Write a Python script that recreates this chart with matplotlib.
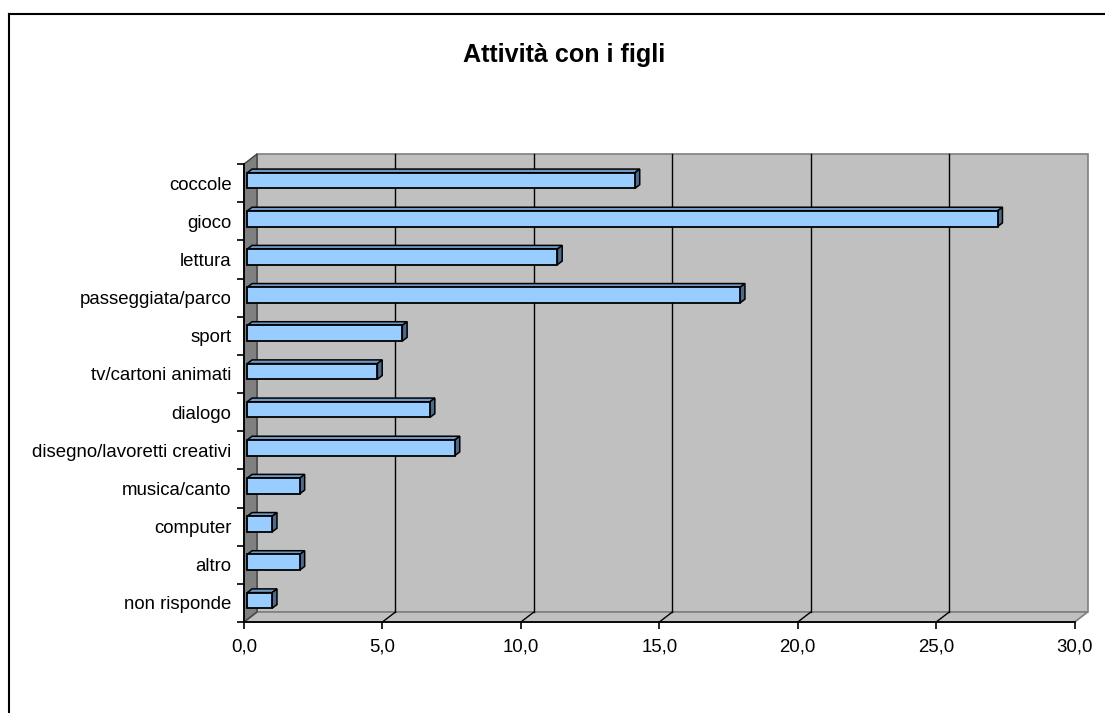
import matplotlib
matplotlib.use("Agg")
import matplotlib.pyplot as plt
import numpy as np
from matplotlib.patches import Polygon
from matplotlib.lines import Line2D

plt.rcParams['font.family'] = ['Liberation Sans', 'DejaVu Sans']

categories = ["coccole", "gioco", "lettura", "passeggiata/parco", "sport",
              "tv/cartoni animati", "dialogo", "disegno/lavoretti creativi",
              "musica/canto", "computer", "altro", "non risponde"]
values = [14.0, 27.1, 11.2, 17.8, 5.6, 4.7, 6.6, 7.5, 1.9, 0.9, 1.9, 0.9]
xticks = [0, 5, 10, 15, 20, 25, 30]
title = "Attività con i figli"

W, H = 1105, 713
fig = plt.figure(figsize=(W / 100, H / 100), dpi=100)

# front plane of the 3d box, in pixels
px_l, px_r, px_t, px_b = 244, 1074.7, 164, 622
ax = fig.add_axes([px_l / W, 1 - px_b / H, (px_r - px_l) / W, (px_b - px_t) / H])
ax.set_xlim(0, 30)
ax.set_ylim(len(categories) - 0.5, -0.5)
ax.set_facecolor('none')

# depth of the box in data units (13 px right, 10 px up)
DX = 13 / ((px_r - px_l) / 30)
DY = 10 / ((px_b - px_t) / len(categories))
y0, y1 = -0.5, len(categories) - 0.5

def poly(pts, **kw):
    p = Polygon(pts, closed=True, clip_on=False, **kw)
    ax.add_patch(p)
    return p

# walls and floor
poly([(DX, y1 - DY), (30 + DX, y1 - DY), (30 + DX, y0 - DY), (DX, y0 - DY)],
     facecolor='#c0c0c0', edgecolor='#808080', lw=1.2, zorder=0)
poly([(0, y1), (30, y1), (30 + DX, y1 - DY), (DX, y1 - DY)],
     facecolor='#c0c0c0', edgecolor='#808080', lw=1.2, zorder=0.5)
poly([(0, y0), (0, y1), (DX, y1 - DY), (DX, y0 - DY)],
     facecolor='#808080', edgecolor='#404040', lw=1.0, zorder=0.6)

# gridlines on back wall and floor
for v in xticks[1:-1]:
    ax.plot([v + DX, v + DX], [y1 - DY, y0 - DY], color='black', lw=1.0,
            clip_on=False, zorder=1)
    ax.plot([v, v + DX], [y1, y1 - DY], color='black', lw=1.0,
            clip_on=False, zorder=1)

# 3d bars: front face with barh, then top and side faces
d0, d1 = 0.25, 0.62
bh = 0.41
ys = np.arange(len(categories))
ax.barh(ys - d0 * DY, values, height=bh, left=d0 * DX, color='#99ccff',
        edgecolor='black', lw=1.3, zorder=3)
dd = d1 - d0
for y, v in zip(ys, values):
    top = y - bh / 2 - d0 * DY
    bot = y + bh / 2 - d0 * DY
    x0 = d0 * DX
    x1 = x0 + v
    poly([(x0, top), (x1, top), (x1 + dd * DX, top - dd * DY), (x0 + dd * DX, top - dd * DY)],
         facecolor='#7099c6', edgecolor='black', lw=1.1, zorder=2.9)
    poly([(x1, top), (x1, bot), (x1 + dd * DX, bot - dd * DY), (x1 + dd * DX, top - dd * DY)],
         facecolor='#4d6a8c', edgecolor='black', lw=1.1, zorder=2.9)

# axes lines and ticks
for s in ['top', 'right']:
    ax.spines[s].set_visible(False)
for s in ['left', 'bottom']:
    ax.spines[s].set_color('black')
    ax.spines[s].set_linewidth(1.3)
    ax.spines[s].set_zorder(4)

ax.set_xticks(xticks)
ax.set_xticklabels([f"{v:.1f}".replace('.', ',') for v in xticks])
ax.tick_params(axis='x', direction='out', length=5, width=1.2, pad=7,
               labelsize=13.4, colors='black')

ax.set_yticks(np.arange(-0.5, len(categories), 1))
ax.set_yticklabels([])
ax.set_yticks(ys, minor=True)
ax.set_yticklabels(categories, minor=True)
ax.tick_params(axis='y', which='major', direction='out', length=5, width=1.2)
ax.tick_params(axis='y', which='minor', length=0, pad=9, labelsize=13.4)

fig.text(564 / W, 1 - 55 / H, title, ha='center', va='center',
         fontsize=18.1, fontweight='bold')

# chart border
fig.add_artist(Line2D([9 / W, 1], [1 - 14 / H, 1 - 14 / H], color='black',
                      lw=1.5, transform=fig.transFigure))
fig.add_artist(Line2D([9 / W, 9 / W], [1 - 14 / H, 0], color='black',
                      lw=1.5, transform=fig.transFigure))

fig.savefig("out.png", dpi=100)
